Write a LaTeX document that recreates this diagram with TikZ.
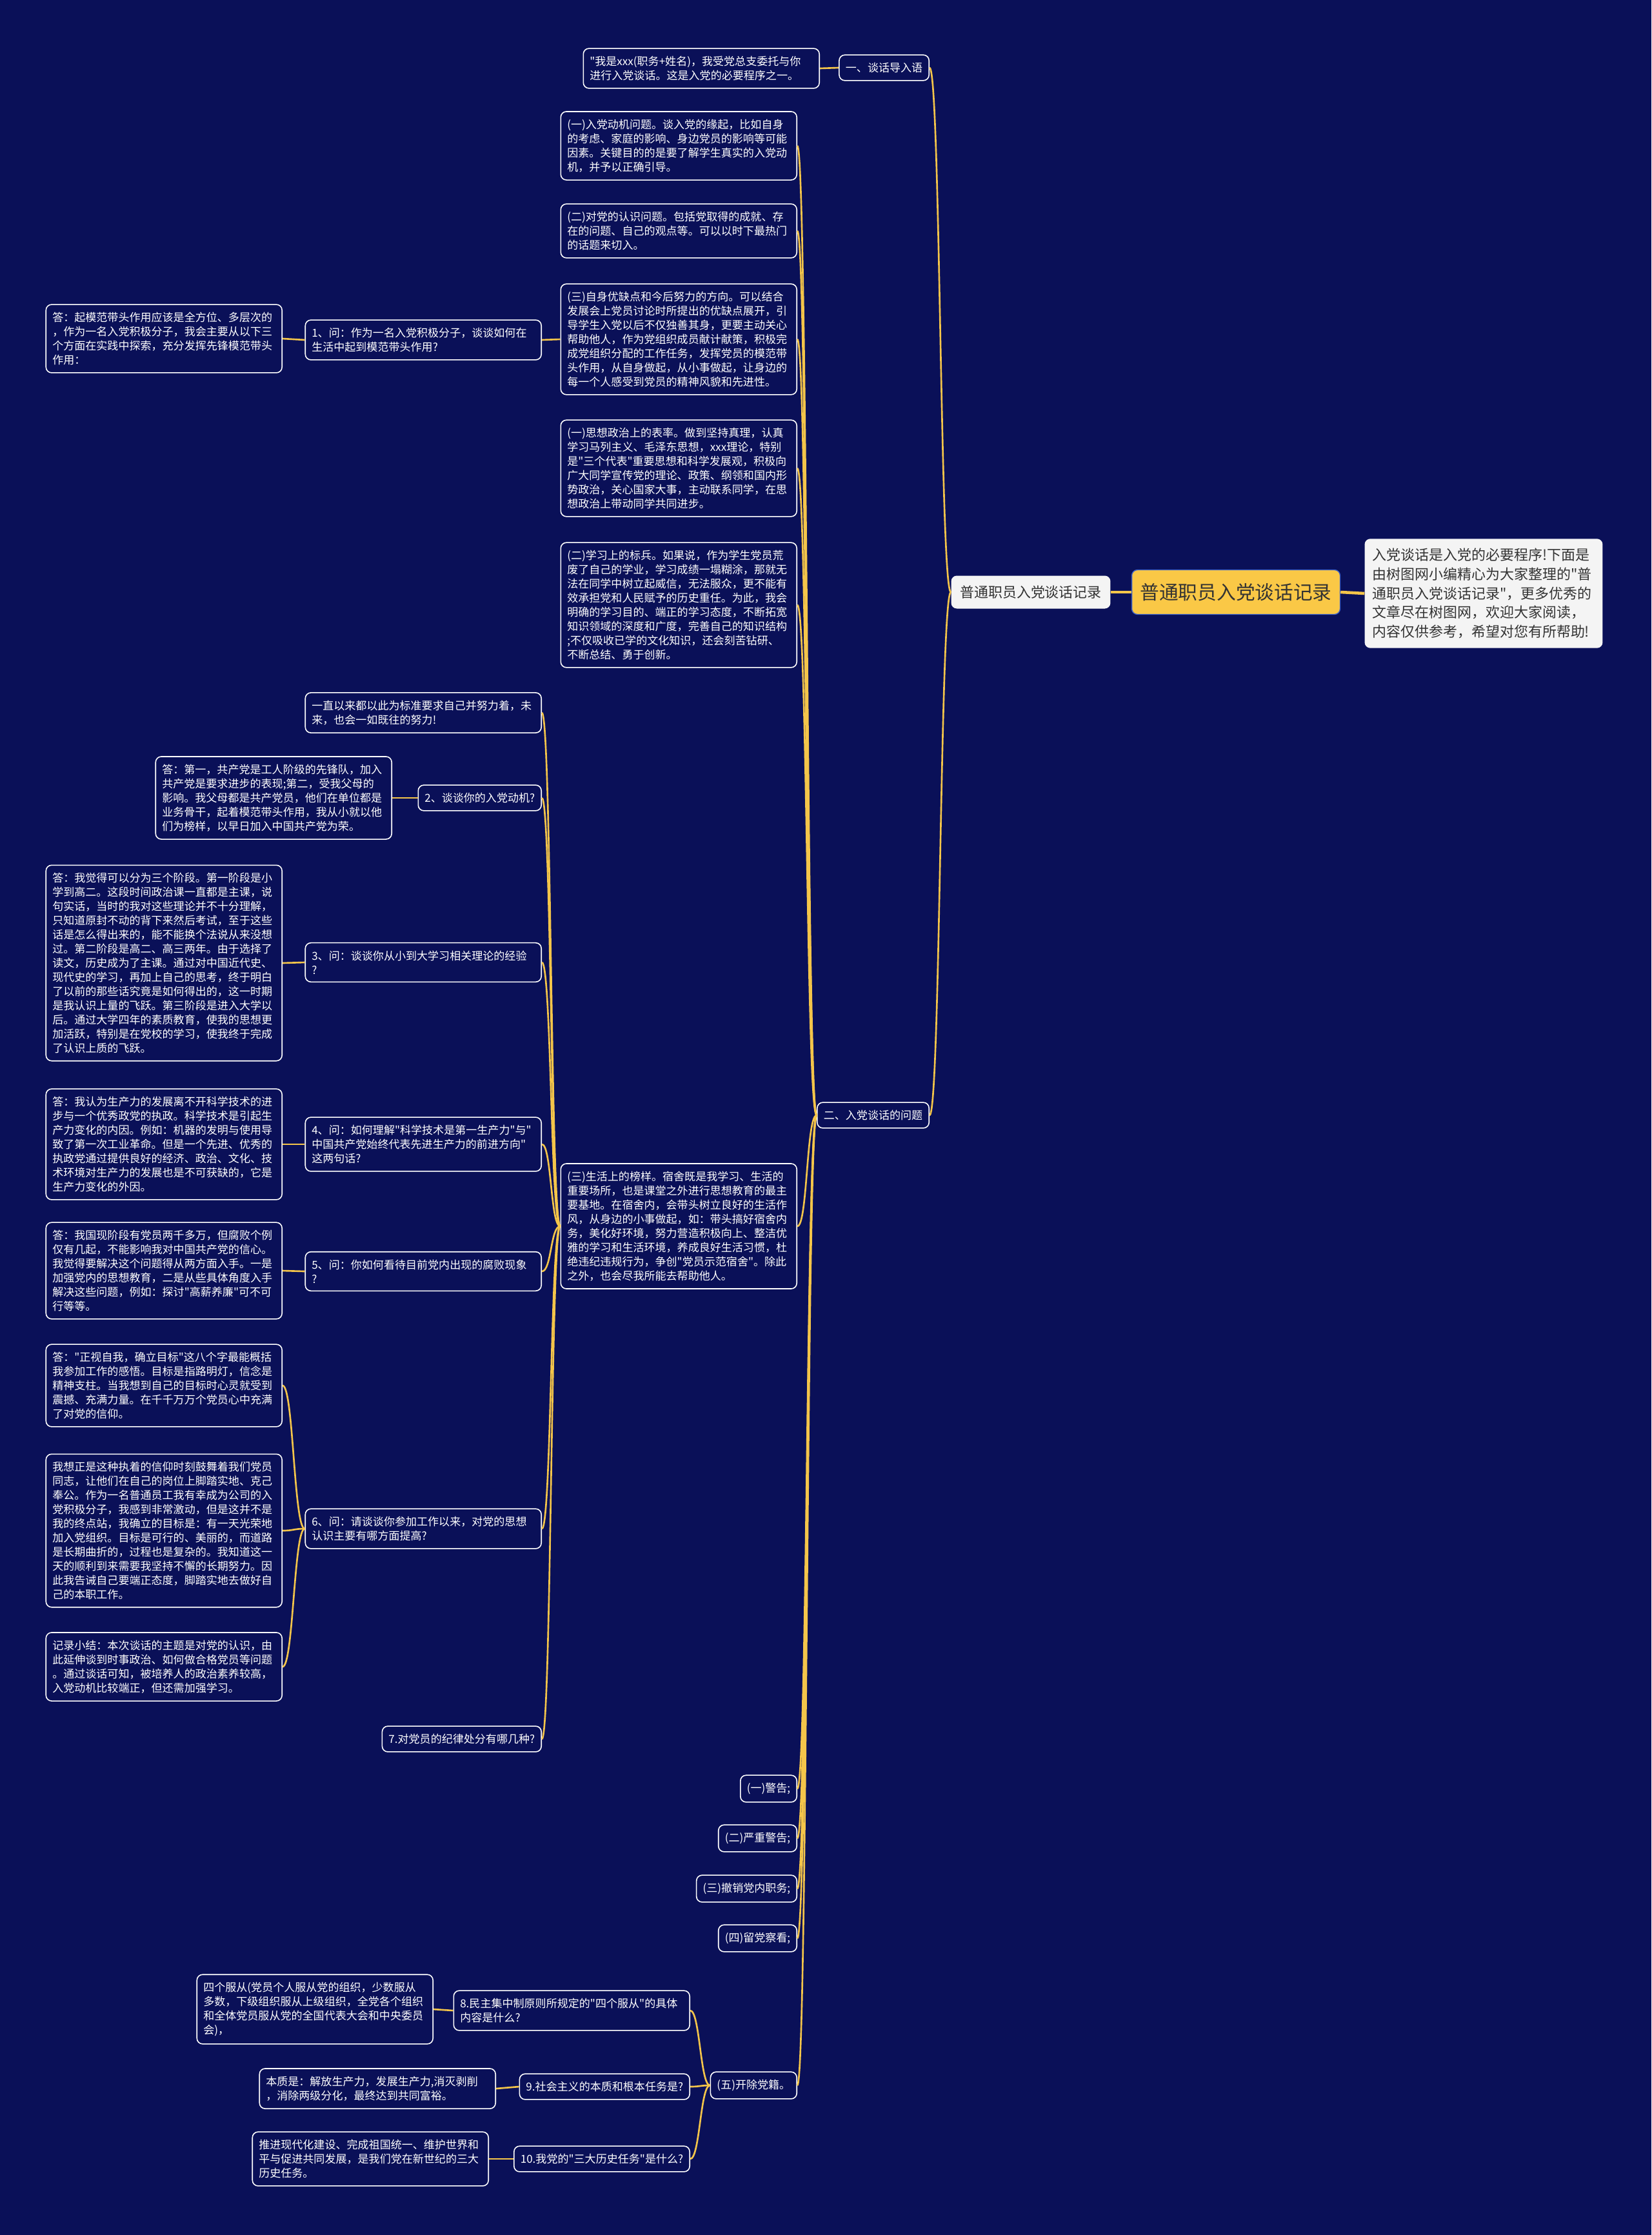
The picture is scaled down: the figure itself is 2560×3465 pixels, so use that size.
\documentclass[tikz,border=0pt]{standalone}
\usepackage{fontspec}
\setmainfont{Noto Sans CJK SC}
\newfontfamily\zh{Noto Sans CJK SC}
\definecolor{navy}{HTML}{0A1058}
\definecolor{gold}{HTML}{F4C54A}
\definecolor{rootfill}{HTML}{FAC846}
\definecolor{rootedge}{HTML}{3F63C8}
\definecolor{paper}{HTML}{F4F4F4}
\definecolor{ink}{HTML}{333333}

\begin{document}
\begin{tikzpicture}[x=0.02cm, y=-0.02cm,
  every node/.style={font=\zh\fontsize{9.7}{12.5}\selectfont},
  card/.style={draw=white, line width=0.9pt, fill=navy, text=white,
    rounded corners=5pt, align=left, inner xsep=0.2cm, inner ysep=0.24cm,
    anchor=east},
  longcard/.style={card, text width=6.92cm},
  paperbox/.style={fill=paper, text=ink, rounded corners=5pt,
    font=\zh\fontsize{12.5}{17}\selectfont},
  link/.style={gold, line width=1.5pt},
  rootlink/.style={gold, line width=2.6pt}]

\def\xm{1236}  %% right edge of the middle column
\def\xq{840}   %% right edge of the question column
\def\xa{438}   %% right edge of the answer column

\fill[navy] (0,0) rectangle (2560,3465);

%% ── Root and its two neighbours ──────────────────────────────────────────────
\node[fill=rootfill, draw=rootedge, line width=0.8pt, rounded corners=5pt,
      text=ink, font=\zh\fontsize{16.9}{20}\selectfont,
      minimum width=6.46cm, minimum height=1.38cm]
  (root) at (1916,918) {普通职员入党谈话记录};
\node[paperbox, minimum width=4.94cm, minimum height=1.02cm]
  (main) at (1598,918) {普通职员入党谈话记录};
\node[paperbox, text width=6.9cm, align=left, inner xsep=0.24cm, inner ysep=0.29cm]
  (desc) at (2300,920)
  {入党谈话是入党的必要程序!下面是\\由树图网小编精心为大家整理的"普\\通职员入党谈话记录"，更多优秀的\\文章尽在树图网，欢迎大家阅读，\\内容仅供参考，希望对您有所帮助!};

%% ── Sections ─────────────────────────────────────────────────────────────────
\node[card] (sec1) at (1441,105) {一、谈话导入语};
\node[card] (sec2) at (1441,1729) {二、入党谈话的问题};

\node[longcard] (intro) at (1271,106)
  {"我是xxx(职务+姓名)，我受党总支委托与你\\进行入党谈话。这是入党的必要程序之一。};

%% ── Middle column ────────────────────────────────────────────────────────────
\node[longcard] (m1) at (\xm,226)
  {(一)入党动机问题。谈入党的缘起，比如自身\\的考虑、家庭的影响、身边党员的影响等可能\\因素。关键目的的是要了解学生真实的入党动\\机，并予以正确引导。};
\node[longcard] (m2) at (\xm,358)
  {(二)对党的认识问题。包括党取得的成就、存\\在的问题、自己的观点等。可以以时下最热门\\的话题来切入。};
\node[longcard] (m3) at (\xm,526)
  {(三)自身优缺点和今后努力的方向。可以结合\\发展会上党员讨论时所提出的优缺点展开，引\\导学生入党以后不仅独善其身，更要主动关心\\帮助他人，作为党组织成员献计献策，积极完\\成党组织分配的工作任务，发挥党员的模范带\\头作用，从自身做起，从小事做起，让身边的\\每一个人感受到党员的精神风貌和先进性。};
\node[longcard] (m4) at (\xm,726)
  {(一)思想政治上的表率。做到坚持真理，认真\\学习马列主义、毛泽东思想，xxx理论，特别\\是"三个代表"重要思想和科学发展观，积极向\\广大同学宣传党的理论、政策、纲领和国内形\\势政治，关心国家大事，主动联系同学，在思\\想政治上带动同学共同进步。};
\node[longcard] (m5) at (\xm,938)
  {(二)学习上的标兵。如果说，作为学生党员荒\\废了自己的学业，学习成绩一塌糊涂，那就无\\法在同学中树立起威信，无法服众，更不能有\\效承担党和人民赋予的历史重任。为此，我会\\明确的学习目的、端正的学习态度，不断拓宽\\知识领域的深度和广度，完善自己的知识结构\\;不仅吸收已学的文化知识，还会刻苦钻研、\\不断总结、勇于创新。};
\node[longcard] (m6) at (\xm,1901)
  {(三)生活上的榜样。宿舍既是我学习、生活的\\重要场所，也是课堂之外进行思想教育的最主\\要基地。在宿舍内，会带头树立良好的生活作\\风，从身边的小事做起，如：带头搞好宿舍内\\务，美化好环境，努力营造积极向上、整洁优\\雅的学习和生活环境，养成良好生活习惯，杜\\绝违纪违规行为，争创"党员示范宿舍"。除此\\之外，也会尽我所能去帮助他人。};

\node[card] (p1) at (\xm,2773) {(一)警告;};
\node[card] (p2) at (\xm,2850) {(二)严重警告;};
\node[card] (p3) at (\xm,2928) {(三)撤销党内职务;};
\node[card] (p4) at (\xm,3005) {(四)留党察看;};
\node[card] (p5) at (\xm,3233) {(五)开除党籍。};

%% ── Questions ────────────────────────────────────────────────────────────────
\node[longcard] (q1) at (\xq,527)
  {1、问：作为一名入党积极分子，谈谈如何在\\生活中起到模范带头作用?};
\node[longcard] (q0) at (\xq,1105)
  {一直以来都以此为标准要求自己并努力着，未\\来，也会一如既往的努力!};
\node[card] (q2) at (\xq,1237) {2、谈谈你的入党动机?};
\node[longcard] (q3) at (\xq,1492)
  {3、问：谈谈你从小到大学习相关理论的经验\\?};
\node[longcard] (q4) at (\xq,1774)
  {4、问：如何理解"科学技术是第一生产力"与"\\中国共产党始终代表先进生产力的前进方向"\\这两句话?};
\node[longcard] (q5) at (\xq,1971)
  {5、问：你如何看待目前党内出现的腐败现象\\?};
\node[longcard] (q6) at (\xq,2370)
  {6、问：请谈谈你参加工作以来，对党的思想\\认识主要有哪方面提高?};
\node[card] (q7) at (\xq,2696) {7.对党员的纪律处分有哪几种?};

\node[longcard] (q8) at (1070,3117)
  {8.民主集中制原则所规定的"四个服从"的具体\\内容是什么?};
\node[card] (q9) at (1070,3235) {9.社会主义的本质和根本任务是?};
\node[card] (q10) at (1070,3347) {10.我党的"三大历史任务"是什么?};

%% ── Answers ──────────────────────────────────────────────────────────────────
\node[longcard] (a1) at (\xa,525)
  {答：起模范带头作用应该是全方位、多层次的\\，作为一名入党积极分子，我会主要从以下三\\个方面在实践中探索，充分发挥先锋模范带头\\作用：};
\node[longcard] (a2) at (608,1237)
  {答：第一，共产党是工人阶级的先锋队，加入\\共产党是要求进步的表现;第二，受我父母的\\影响。我父母都是共产党员，他们在单位都是\\业务骨干，起着模范带头作用，我从小就以他\\们为榜样，以早日加入中国共产党为荣。};
\node[longcard] (a3) at (\xa,1493)
  {答：我觉得可以分为三个阶段。第一阶段是小\\学到高二。这段时间政治课一直都是主课，说\\句实话，当时的我对这些理论并不十分理解，\\只知道原封不动的背下来然后考试，至于这些\\话是怎么得出来的，能不能换个法说从来没想\\过。第二阶段是高二、高三两年。由于选择了\\读文，历史成为了主课。通过对中国近代史、\\现代史的学习，再加上自己的思考，终于明白\\了以前的那些话究竟是如何得出的，这一时期\\是我认识上量的飞跃。第三阶段是进入大学以\\后。通过大学四年的素质教育，使我的思想更\\加活跃，特别是在党校的学习，使我终于完成\\了认识上质的飞跃。};
\node[longcard] (a4) at (\xa,1774)
  {答：我认为生产力的发展离不开科学技术的进\\步与一个优秀政党的执政。科学技术是引起生\\产力变化的内因。例如：机器的发明与使用导\\致了第一次工业革命。但是一个先进、优秀的\\执政党通过提供良好的经济、政治、文化、技\\术环境对生产力的发展也是不可获缺的，它是\\生产力变化的外因。};
\node[longcard] (a5) at (\xa,1970)
  {答：我国现阶段有党员两千多万，但腐败个例\\仅有几起，不能影响我对中国共产党的信心。\\我觉得要解决这个问题得从两方面入手。一是\\加强党内的思想教育，二是从些具体角度入手\\解决这些问题，例如：探讨"高薪养廉"可不可\\行等等。};
\node[longcard] (a6a) at (\xa,2148)
  {答："正视自我，确立目标"这八个字最能概括\\我参加工作的感悟。目标是指路明灯，信念是\\精神支柱。当我想到自己的目标时心灵就受到\\震撼、充满力量。在千千万万个党员心中充满\\了对党的信仰。};
\node[longcard] (a6b) at (\xa,2373)
  {我想正是这种执着的信仰时刻鼓舞着我们党员\\同志，让他们在自己的岗位上脚踏实地、克己\\奉公。作为一名普通员工我有幸成为公司的入\\党积极分子，我感到非常激动，但是这并不是\\我的终点站，我确立的目标是：有一天光荣地\\加入党组织。目标是可行的、美丽的，而道路\\是长期曲折的，过程也是复杂的。我知道这一\\天的顺利到来需要我坚持不懈的长期努力。因\\此我告诫自己要端正态度，脚踏实地去做好自\\己的本职工作。};
\node[longcard] (a6c) at (\xa,2584)
  {记录小结：本次谈话的主题是对党的认识，由\\此延伸谈到时事政治、如何做合格党员等问题\\。通过谈话可知，被培养人的政治素养较高，\\入党动机比较端正，但还需加强学习。};

\node[longcard] (a8) at (672,3115)
  {四个服从(党员个人服从党的组织，少数服从\\多数，下级组织服从上级组织，全党各个组织\\和全体党员服从党的全国代表大会和中央委员\\会)，};
\node[longcard] (a9) at (769,3238)
  {本质是：解放生产力，发展生产力,消灭剥削\\，消除两级分化，最终达到共同富裕。};
\node[longcard] (a10) at (758,3347)
  {推进现代化建设、完成祖国统一、维护世界和\\平与促进共同发展，是我们党在新世纪的三大\\历史任务。};

%% ── Connectors ───────────────────────────────────────────────────────────────
\draw[rootlink] (root.west) -- (main.east);
\draw[rootlink] (root.east) -- (desc.west);

\foreach \c in {sec1,sec2}
  \draw[link] (main.west) .. controls +(-17,0) and +(17,0) .. (\c.east);
\draw[link] (sec1.west) -- (intro.east);

\foreach \c in {m1,m2,m3,m4,m5,m6,p1,p2,p3,p4,p5}
  \draw[link] (sec2.west) .. controls +(-16,0) and +(16,0) .. (\c.east);

\draw[link] (m3.west) -- (q1.east);
\draw[link] (q1.west) -- (a1.east);

\foreach \c in {q0,q2,q3,q4,q5,q6,q7}
  \draw[link] (m6.west) .. controls +(-15,0) and +(15,0) .. (\c.east);

\draw[link] (q2.west) -- (a2.east);
\draw[link] (q3.west) -- (a3.east);
\draw[link] (q4.west) -- (a4.east);
\draw[link] (q5.west) -- (a5.east);

\foreach \c in {a6a,a6b,a6c}
  \draw[link] (q6.west) .. controls +(-17,0) and +(17,0) .. (\c.east);

\foreach \c in {q8,q9,q10}
  \draw[link] (p5.west) .. controls +(-15,0) and +(15,0) .. (\c.east);

\draw[link] (q8.west) -- (a8.east);
\draw[link] (q9.west) -- (a9.east);
\draw[link] (q10.west) -- (a10.east);

\end{tikzpicture}
\end{document}
